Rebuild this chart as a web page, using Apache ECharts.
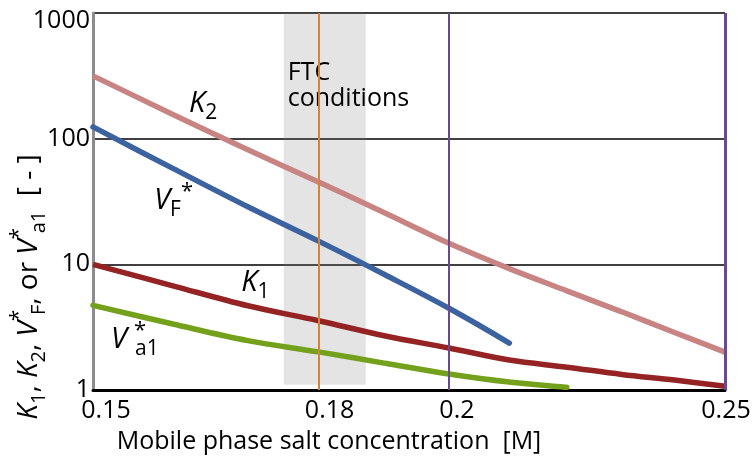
<!DOCTYPE html>
<html>
<head>
<meta charset="utf-8">
<script src="https://cdn.jsdelivr.net/npm/echarts@6/dist/echarts.min.js"></script>
<style>
  html, body { margin: 0; padding: 0; background: #fff; }
  #chart { width: 755px; height: 459px; }
</style>
</head>
<body>
<div id="chart"></div>
<script>
// Mobile phase salt concentration [M]
const salt = [0.15, 0.16, 0.17, 0.18, 0.19, 0.20, 0.21, 0.22, 0.23, 0.24, 0.25];
// Curves (log scale values)
const k2  = [316, 156, 81.6, 45.2, 25.5, 14.7, 9.24, 6.15, 4.19, 2.87, 2.0];
const k1  = [10.0, 6.75, 4.68, 3.56, 2.69, 2.16, 1.73, 1.52, 1.33, 1.20, 1.07];
const vF  = [124, 58, 28.7, 15.3, 8.22, 4.47, 2.36];
const va1 = [4.72, 3.35, 2.47, 2.01, 1.63, 1.34, 1.156, 1.05];

// Axis ticks
const xTicks = [0.15, 0.18, 0.2, 0.25];
const xTickLabels = ['0.15', '0.18', '0.2', '0.25'];
const yMin = 1, yMax = 1000;

// FTC operating window and reference lines
const ftcBand = [0.175, 0.187];
const ftcBandFloor = 1.1;
const orangeLine = [0.18];
const purpleLines = [0.2, 0.25];

const FONT = 'Open Sans';
const pairs = (ys) => ys.map((y, i) => [salt[i], y]);

const richCurve = {
  it: { fontFamily: FONT, fontStyle: 'italic', fontSize: 29, lineHeight: 40, color: '#000' },
  sb: { fontFamily: FONT, fontSize: 21, lineHeight: 20, verticalAlign: 'bottom', color: '#000' },
  sp: { fontFamily: FONT, fontSize: 22, lineHeight: 28, verticalAlign: 'top', color: '#000' },
  sp0: { fontFamily: FONT, fontSize: 22, lineHeight: 30, verticalAlign: 'top', color: '#000', width: 1, padding: [0, 0, 0, 7] }
};

// curve name tags, anchored in data space (left edge, vertical middle)
const curveTags = [
  { value: [0.1621, 190], text: '{it|K}{sb|2}' },
  { value: [0.1576, 32], text: '{it|V}{sb|F}{sp|*}' },
  { value: [0.1691, 7.2], text: '{it|K}{sb|1}' },
  { value: [0.1522, 2.5], text: '{it|V}{sp0|*}{sb|a1}' }
];

const tickShift = [13, 11, 8, 1];

const chart = echarts.init(document.getElementById('chart'), null, { renderer: 'canvas' });

const lineSeries = (name, data, color, z, cap) => ({
  name, type: 'line', data: pairs(data), smooth: 0.35, symbol: 'none', z,
  lineStyle: { color, width: 5.5, cap: cap || 'butt' }, silent: true
});

chart.setOption({
  animation: false,
  grid: { left: 93, right: 30, top: 13, bottom: 69 },
  xAxis: {
    type: 'log', logBase: 10, min: 0.15, max: 0.25,
    axisLine: { show: true, lineStyle: { color: '#000', width: 3 } },
    axisTick: { show: false }, axisLabel: { show: false }, splitLine: { show: false }
  },
  yAxis: {
    type: 'log', logBase: 10, min: yMin, max: yMax,
    axisLine: { show: true, lineStyle: { color: '#8c8c8c', width: 3 } },
    axisTick: { show: false },
    axisLabel: {
      fontFamily: FONT, fontSize: 25, color: '#000', margin: 3,
      formatter: (v) => v === yMax ? '{top|' + v + '}' : String(v),
      rich: { top: { fontFamily: FONT, fontSize: 25, color: '#000', padding: [16, 0, 0, 0] } }
    },
    splitLine: { show: true, lineStyle: { color: '#000', width: 1.6 } }
  },
  series: [
    lineSeries('K2', k2, '#c88482', 2),
    lineSeries('K1', k1, '#952323', 2),
    {
      name: 'FTC conditions', type: 'line', data: [], z: 3, silent: true,
      markArea: {
        silent: true,
        itemStyle: { color: 'rgba(120,120,120,0.2)' },
        label: {
          show: true, position: 'insideTopLeft', offset: [-1, 42],
          formatter: 'FTC\nconditions', fontFamily: FONT, fontSize: 25, lineHeight: 26, color: '#000'
        },
        data: [[{ xAxis: ftcBand[0], yAxis: ftcBandFloor }, { xAxis: ftcBand[1], yAxis: yMax }]]
      }
    },
    lineSeries('VF*', vF, '#3c62a0', 4, 'round'),
    lineSeries('Va1*', va1, '#74a11b', 4, 'round'),
    {
      name: 'guides', type: 'line', data: [], z: 5, silent: true,
      markLine: {
        silent: true, symbol: 'none', label: { show: false },
        data: [
          ...orangeLine.map(x => ({ xAxis: x, lineStyle: { color: '#d4843a', width: 2, type: 'solid' } })),
          ...purpleLines.map((x, i) => ({ xAxis: x, lineStyle: { color: '#6a4a8e', width: i === purpleLines.length - 1 ? 3 : 2, type: 'solid' } }))
        ]
      }
    },
    {
      name: 'xTickLabels', type: 'scatter', symbolSize: 0, z: 6, silent: true, clip: false,
      itemStyle: { opacity: 1 },
      data: xTicks.map((x, i) => ({ value: [x, yMin], label: { offset: [tickShift[i], 0] } })),
      label: {
        show: true, position: 'bottom', distance: 8, opacity: 1,
        fontFamily: FONT, fontSize: 25, lineHeight: 25, color: '#000',
        formatter: (p) => xTickLabels[p.dataIndex]
      }
    },
    {
      name: 'curveTags', type: 'scatter', symbolSize: 0, z: 6, silent: true, clip: false,
      itemStyle: { opacity: 1 },
      data: curveTags.map(t => ({ value: t.value })),
      label: {
        show: true, position: 'right', distance: 0, align: 'left', verticalAlign: 'middle',
        color: '#000', opacity: 1,
        formatter: (p) => curveTags[p.dataIndex].text,
        rich: richCurve
      }
    }
  ],
  graphic: [
    {
      type: 'text', x: 329, y: 442, silent: true,
      style: {
        text: 'Mobile phase salt concentration  [M]', fontFamily: FONT, fontSize: 25,
        fill: '#000', align: 'center', verticalAlign: 'middle'
      }
    },
    {
      type: 'text', x: 29, y: 287, rotation: Math.PI / 2, silent: true,
      style: {
        text: '{it|K}{sb|1}{n|, }{it|K}{sb|2}{n|, }{it|V}{sp0|*}{sb|F}{n|, or }{it|V}{sp0|*}{sb|a1}{n|  [ - ]}',
        align: 'center', verticalAlign: 'middle',
        rich: {
          n: { fontFamily: FONT, fontSize: 28, lineHeight: 40, fill: '#000' },
          it: { fontFamily: FONT, fontStyle: 'italic', fontSize: 28, lineHeight: 40, fill: '#000' },
          sb: { fontFamily: FONT, fontSize: 20, lineHeight: 20, verticalAlign: 'bottom', fill: '#000' },
          sp0: { fontFamily: FONT, fontSize: 21, lineHeight: 28, verticalAlign: 'top', fill: '#000', width: 1, padding: [0, 0, 0, 5] }
        }
      }
    }
  ]
});
</script>
</body>
</html>
